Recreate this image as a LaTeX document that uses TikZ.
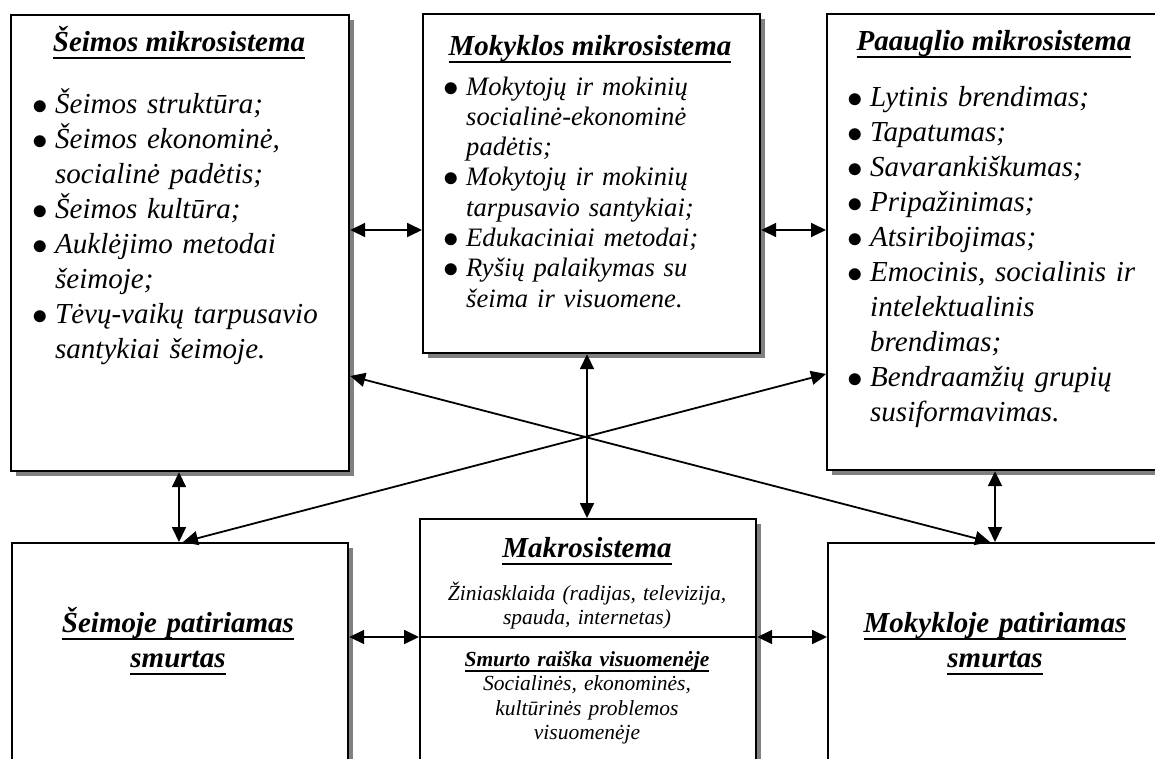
\documentclass[tikz,border=0pt]{standalone}
\usepackage{fontspec}
\setmainfont{Liberation Serif}
\usepackage{graphicx}
\usetikzlibrary{arrows.meta,shadows}
\definecolor{shadowgray}{RGB}{128,128,128}
\newcommand{\bul}{\makebox[21pt][l]{\hspace*{-2pt}\raisebox{-1pt}{\scalebox{1.25}{$\bullet$}}}}
\newcommand{\ind}{\hspace*{21pt}}
\newcommand{\myul}[3]{\leavevmode\setbox0=\hbox{#3}\rlap{\rule[-#2]{\wd0}{#1}}\box0}
\newcommand{\thickul}[1]{\myul{2.6pt}{8.4pt}{#1}}
\newcommand{\thinul}[1]{\myul{1.6pt}{5.8pt}{#1}}
\begin{document}
\begin{tikzpicture}[x=1pt,y=-1pt,
  box/.style={draw, line width=2.2pt, fill=white, inner sep=0pt, anchor=north west,
    drop shadow={fill=shadowgray, opacity=1, shadow xshift=5pt, shadow yshift=-5pt}},
  arr/.style={line width=1.8pt, {Triangle[length=15pt,width=14pt]}-{Triangle[length=15pt,width=14pt]}},
  title/.style={inner sep=0pt, font=\fontsize{29}{35}\selectfont\bfseries\itshape},
  items/.style={inner sep=0pt, anchor=base west, align=left, text width=320pt,
    font=\fontsize{29}{35}\selectfont\itshape},
  itemsB/.style={inner sep=0pt, anchor=base west, align=left, text width=320pt,
    font=\fontsize{26.6}{30.3}\selectfont\itshape},
  small/.style={inner sep=0pt, anchor=base, align=center, text width=330pt,
    font=\fontsize{21.5}{24.6}\selectfont\itshape}
]
\useasboundingbox (0,0) rectangle (1155,758);
\clip (0,0) rectangle (1155,758);

% boxes
\node[box, minimum width=338pt, minimum height=456pt] (A) at (10,14) {};
\node[box, minimum width=337pt, minimum height=339pt] (B) at (422,13) {};
\node[box, minimum width=338pt, minimum height=456pt] (C) at (826,13) {};
\node[box, minimum width=336pt, minimum height=240pt] (D) at (11,542) {};
\node[box, minimum width=336pt, minimum height=260pt] (E) at (419,518) {};
\node[box, minimum width=337pt, minimum height=240pt] (F) at (827,542) {};

% texts box A
\node[title, anchor=base] (At) at (179,51) {\thickul{Šeimos mikrosistema}};
\node[items] (Al) at (34,113) {%
\bul Šeimos struktūra;\\
\bul Šeimos ekonominė,\\
\ind socialinė padėtis;\\
\bul Šeimos kultūra;\\
\bul Auklėjimo metodai\\
\ind šeimoje;\\
\bul Tėvų-vaikų tarpusavio\\
\ind santykiai šeimoje.};

% texts box B
\node[title, anchor=base] (Bt) at (590,55) {\thickul{Mokyklos mikrosistema}};
\node[itemsB] (Bl) at (445,95) {%
\bul Mokytojų ir mokinių\\
\ind socialinė-ekonominė\\
\ind padėtis;\\
\bul Mokytojų ir mokinių\\
\ind tarpusavio santykiai;\\
\bul Edukaciniai metodai;\\
\bul Ryšių palaikymas su\\
\ind šeima ir visuomene.};

% texts box C
\node[title, anchor=base] (Ct) at (994,50) {\thickul{Paauglio mikrosistema}};
\node[items] (Cl) at (849,106) {%
\bul Lytinis brendimas;\\
\bul Tapatumas;\\
\bul Savarankiškumas;\\
\bul Pripažinimas;\\
\bul Atsiribojimas;\\
\bul Emocinis, socialinis ir\\
\ind intelektualinis\\
\ind brendimas;\\
\bul Bendraamžių grupių\\
\ind susiformavimas.};

% bottom boxes
\node[title, anchor=base, align=center, text width=330pt] (Dt) at (178,632)
  {\thickul{Šeimoje patiriamas}\\\thickul{smurtas}};
\node[title, anchor=base, align=center, text width=330pt] (Ft) at (995,632)
  {\thickul{Mokykloje patiriamas}\\\thickul{smurtas}};

\node[title, anchor=base] (Et) at (587,557) {\thickul{Makrosistema}};
\node[small] (Ea) at (587,600) {Žiniasklaida (radijas, televizija,\\spauda, internetas)};
\node[small] (Eb) at (587,666) {{\bfseries\thinul{Smurto raiška visuomenėje}}\\
  Socialinės, ekonominės,\\kultūrinės problemos\\visuomenėje};

% divider
\draw[line width=1.5pt] (E.west |- 0,637) -- (E.east |- 0,637);

% connectors
\draw[arr] (A.east |- 0,230) -- (B.west |- 0,230);
\draw[arr] (B.east |- 0,230) -- (C.west |- 0,230);
\draw[arr] (E.north -| 587,0) -- (B.south -| 587,0);
\draw[arr] (A.south -| 179,0) -- (D.north -| 179,0);
\draw[arr] (C.south -| 995,0) -- (F.north -| 995,0);
\draw[arr] (D.east |- 0,637) -- (E.west |- 0,637);
\draw[arr] (E.east |- 0,637) -- (F.west |- 0,637);
\draw[arr] (A.east |- 0,376) -- (F.north -| 990,0);
\draw[arr] (C.west |- 0,374) -- (D.north -| 183,0);
\end{tikzpicture}
\end{document}
